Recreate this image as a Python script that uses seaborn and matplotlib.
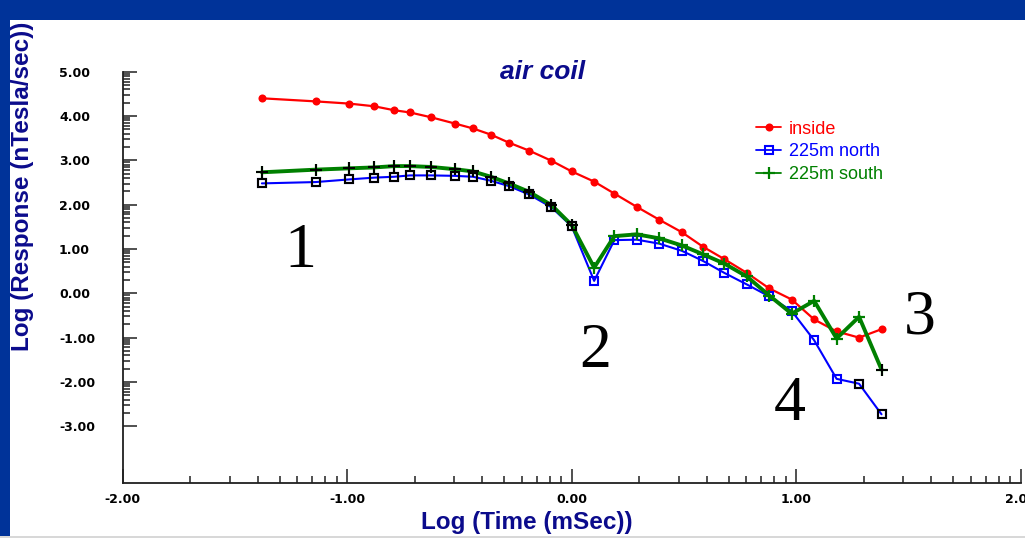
import numpy as np
import pandas as pd
import matplotlib
matplotlib.use("Agg")
import matplotlib.pyplot as plt
import seaborn as sns
from matplotlib.patches import Rectangle
from matplotlib.ticker import FixedLocator, FormatStrFormatter

# ---------------- data ----------------
log_time = [-1.38, -1.14, -0.99, -0.88, -0.79, -0.72, -0.625, -0.52, -0.44, -0.36,
            -0.28, -0.19, -0.09, 0.00, 0.10, 0.19, 0.29, 0.39, 0.49, 0.585,
            0.68, 0.78, 0.88, 0.98, 1.08, 1.18, 1.28, 1.38]

inside = [4.40, 4.33, 4.28, 4.22, 4.13, 4.08, 3.97, 3.83, 3.72, 3.58,
          3.40, 3.22, 2.99, 2.75, 2.52, 2.25, 1.95, 1.66, 1.38, 1.05,
          0.77, 0.46, 0.11, -0.14, -0.59, -0.86, -1.00, -0.81]

north = [2.48, 2.51, 2.57, 2.61, 2.63, 2.66, 2.66, 2.65, 2.63, 2.54,
         2.42, 2.23, 1.94, 1.51, 0.28, 1.20, 1.21, 1.12, 0.96, 0.73,
         0.46, 0.20, -0.07, -0.40, -1.06, -1.93, -2.04, -2.73]

south = [2.73, 2.79, 2.82, 2.84, 2.87, 2.87, 2.85, 2.80, 2.75, 2.63,
         2.48, 2.29, 1.99, 1.54, 0.58, 1.29, 1.33, 1.24, 1.08, 0.88,
         0.67, 0.38, -0.05, -0.46, -0.17, -1.02, -0.53, -1.72]

series_names = ["inside", "225m north", "225m south"]
# points drawn with black markers in the original
north_black = list(range(0, 14)) + [26, 27]
south_black = list(range(0, 14)) + [27]

x_ticks = [-2, -1, 0, 1, 2]
y_ticks = [-3, -2, -1, 0, 1, 2, 3, 4, 5]

# ---------------- figure ----------------
sns.set_theme(style="white")
plt.rcParams["font.family"] = ["Liberation Sans", "DejaVu Sans"]

W, H = 1025, 538
fig = plt.figure(figsize=(W / 100, H / 100), dpi=100)
fig.patch.set_facecolor("white")

# blue frame
blue = "#003399"
fig.patches.append(Rectangle((0, 1 - 20 / H), 1, 20 / H, transform=fig.transFigure,
                             facecolor=blue, edgecolor="none", zorder=0))
fig.patches.append(Rectangle((0, 2 / H), 10 / W, 1, transform=fig.transFigure,
                             facecolor=blue, edgecolor="none", zorder=0))
fig.patches.append(Rectangle((0, 0), 1, 2 / H, transform=fig.transFigure,
                             facecolor="#d8d8d8", edgecolor="none", zorder=0))

left, right = 122.7 / W, 1020.7 / W
bottom, top = (H - 483) / H, (H - 71.7) / H
ax = fig.add_axes([left, bottom, right - left, top - bottom])
ax.set_facecolor("none")

df = pd.DataFrame({"x": log_time, "inside": inside, "north": north, "south": south})

sns.lineplot(data=df, x="x", y="inside", ax=ax, color="#ff0000", lw=1.6,
             marker="o", markersize=5.8, markeredgewidth=0, label=series_names[0],
             zorder=3)
sns.lineplot(data=df, x="x", y="north", ax=ax, color="#0000ff", lw=1.5,
             marker="s", markersize=6.3, markerfacecolor="none", markeredgecolor="#0000ff",
             markeredgewidth=1.5, label=series_names[1], zorder=4)
sns.lineplot(data=df, x="x", y="south", ax=ax, color="#008000", lw=2.8,
             marker="+", markersize=8, markeredgewidth=1.6, markeredgecolor="#008000",
             label=series_names[2], zorder=5)

dn = df.iloc[north_black]
ds = df.iloc[south_black]
ax.plot(dn["x"], dn["north"], ls="none", marker="s", markersize=6.3,
        markerfacecolor="none", markeredgecolor="black", markeredgewidth=1.5, zorder=6)
ax.plot(ds["x"], ds["south"], ls="none", marker="+", markersize=8,
        markeredgecolor="black", markeredgewidth=1.4, zorder=6)

ax.set_xlim(-2, 2)
ax.set_ylim(-4.28, 5)

# ticks
ax.xaxis.set_major_locator(FixedLocator(x_ticks))
ax.yaxis.set_major_locator(FixedLocator(y_ticks))
xminor = [a + np.log10(k) for a in x_ticks[:-1] for k in range(2, 10)]
yminor = [a + np.log10(k) for a in y_ticks[:-1] for k in range(2, 10)]
ax.xaxis.set_minor_locator(FixedLocator(xminor))
ax.yaxis.set_minor_locator(FixedLocator(yminor))
ax.xaxis.set_major_formatter(FormatStrFormatter("%.2f"))
ax.yaxis.set_major_formatter(FormatStrFormatter("%.2f"))

ax.tick_params(which="both", direction="in", color="#202020", width=1.1)
ax.tick_params(which="major", length=10)
ax.tick_params(which="minor", length=5)
ax.tick_params(axis="y", which="major", pad=45.9, labelsize=9)
ax.tick_params(axis="x", which="major", pad=7, labelsize=9)
ax.tick_params(axis="both", which="both", left=True, bottom=True)
for lab in ax.get_xticklabels() + ax.get_yticklabels():
    lab.set_fontweight("bold")
    lab.set_family("DejaVu Sans")
    lab.set_color("black")
for lab in ax.get_yticklabels():
    lab.set_horizontalalignment("left")

for s in ["top", "right"]:
    ax.spines[s].set_visible(False)
for s in ["left", "bottom"]:
    ax.spines[s].set_color("#202020")
    ax.spines[s].set_linewidth(1.3)
ax.grid(False)

ax.set_xlabel("")
ax.set_ylabel("")
navy = "#0b0b8c"
fig.text(526.5 / W, 1 - 523 / H, "Log (Time (mSec))", ha="center", va="center",
         fontsize=17.5, fontweight="bold", color=navy)
fig.text(23 / W, 1 - 186 / H, "Log (Response (nTesla/sec))", ha="center", va="center",
         rotation=90, fontsize=17.5, fontweight="bold", color=navy)
fig.text(543 / W, 1 - 72 / H, "air coil", ha="center", va="center",
         fontsize=19, fontweight="bold", fontstyle="italic", color=navy)

# big annotation numbers
for txt, px, py in [("1", 300, 252), ("2", 595, 352), ("3", 920, 318), ("4", 790, 405)]:
    fig.text(px / W, 1 - py / H, txt, ha="center", va="center", fontsize=46,
             family=["Liberation Serif", "DejaVu Serif"], color="black")

# legend
leg = ax.legend(loc="center left", bbox_to_anchor=(747 / W, 1 - 152 / H),
                bbox_transform=fig.transFigure, frameon=False, fontsize=13,
                handlelength=1.4, handletextpad=0.4, labelspacing=0.32, borderpad=0)
for t, c in zip(leg.get_texts(), ["#ff0000", "#0000ff", "#008000"]):
    t.set_color(c)
for h in leg.legend_handles:
    h.set_linewidth(1.3)

fig.savefig("out.png", dpi=100, facecolor=fig.get_facecolor())
